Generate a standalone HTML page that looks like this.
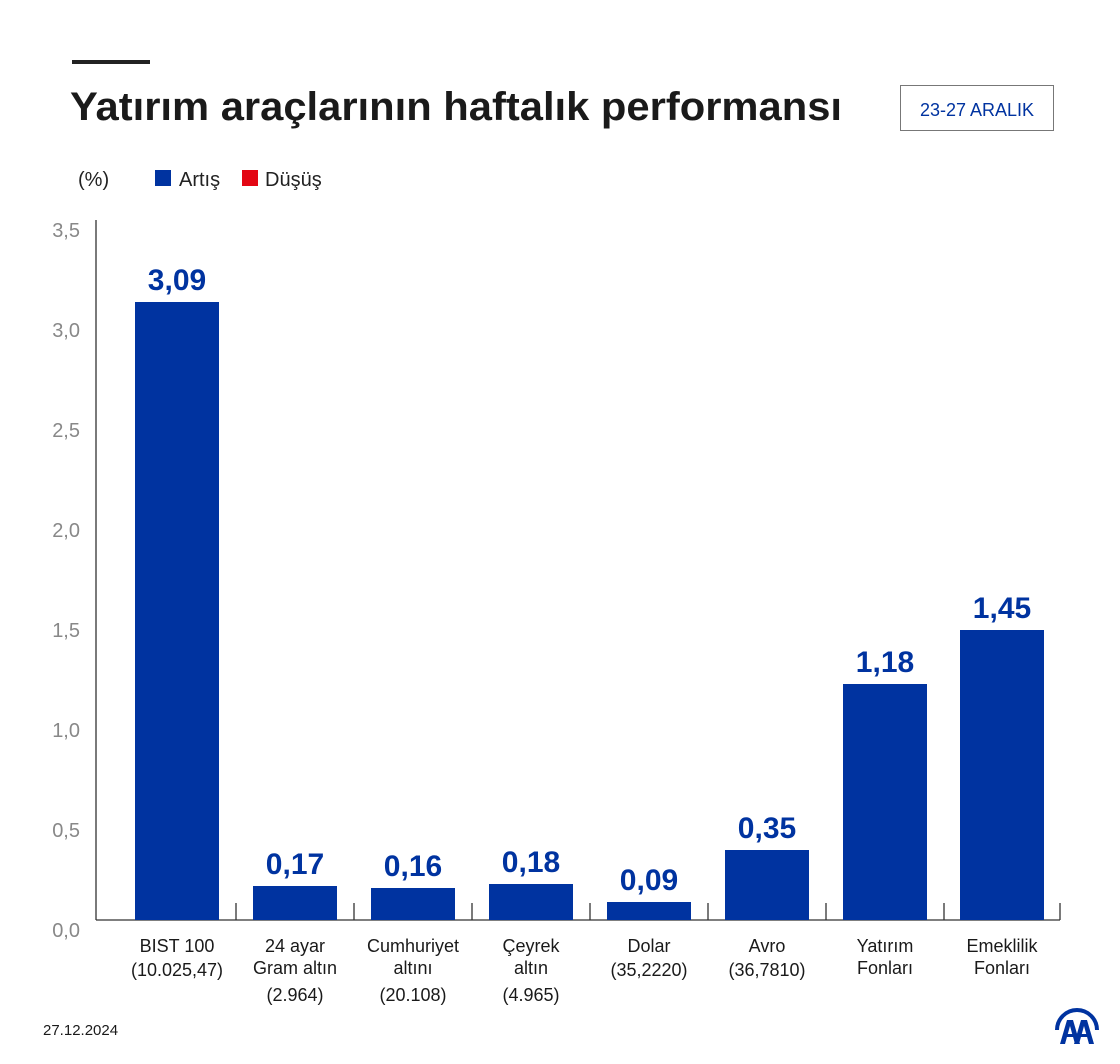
<!DOCTYPE html>
<html><head><meta charset="utf-8"><style>
body{margin:0;background:#fff;}
svg{display:block;font-family:"Liberation Sans",sans-serif;}
</style></head><body>
<svg width="1120" height="1064" viewBox="0 0 1120 1064">
<rect x="72" y="60" width="78" height="4" fill="#222"/>
<text x="70" y="120" font-size="40" font-weight="bold" fill="#1a1a1a" textLength="772" lengthAdjust="spacingAndGlyphs">Yatırım araçlarının haftalık performansı</text>
<rect x="900.5" y="85.5" width="153" height="45" fill="#fff" stroke="#777"/>
<text x="977" y="116" font-size="18" fill="#0033a0" text-anchor="middle">23-27 ARALIK</text>
<text x="78" y="186" font-size="20" fill="#222">(%)</text>
<rect x="155" y="170" width="16" height="16" fill="#0033a0"/>
<text x="179" y="186" font-size="20" fill="#222">Artış</text>
<rect x="242" y="170" width="16" height="16" fill="#e30613"/>
<text x="265" y="186" font-size="20" fill="#222">Düşüş</text>
<g font-size="20" fill="#888" text-anchor="end">
<text x="80" y="237">3,5</text><text x="80" y="337">3,0</text><text x="80" y="437">2,5</text><text x="80" y="537">2,0</text><text x="80" y="637">1,5</text><text x="80" y="737">1,0</text><text x="80" y="837">0,5</text><text x="80" y="937">0,0</text>
</g>
<g stroke="#333" stroke-width="1.3">
<line x1="96" y1="220" x2="96" y2="920"/>
<line x1="96" y1="920" x2="1060" y2="920"/>
<line x1="236" y1="903" x2="236" y2="920"/><line x1="354" y1="903" x2="354" y2="920"/><line x1="472" y1="903" x2="472" y2="920"/><line x1="590" y1="903" x2="590" y2="920"/><line x1="708" y1="903" x2="708" y2="920"/><line x1="826" y1="903" x2="826" y2="920"/><line x1="944" y1="903" x2="944" y2="920"/><line x1="1060" y1="903" x2="1060" y2="920"/>
</g>
<g fill="#0033a0">
<rect x="135" y="302" width="84" height="618"/>
<rect x="253" y="886" width="84" height="34"/>
<rect x="371" y="888" width="84" height="32"/>
<rect x="489" y="884" width="84" height="36"/>
<rect x="607" y="902" width="84" height="18"/>
<rect x="725" y="850" width="84" height="70"/>
<rect x="843" y="684" width="84" height="236"/>
<rect x="960" y="630" width="84" height="290"/>
</g>
<g font-size="30" font-weight="bold" fill="#0033a0" text-anchor="middle">
<text x="177" y="290">3,09</text><text x="295" y="874">0,17</text><text x="413" y="876">0,16</text><text x="531" y="872">0,18</text><text x="649" y="890">0,09</text><text x="767" y="838">0,35</text><text x="885" y="672">1,18</text><text x="1002" y="618">1,45</text>
</g>
<g font-size="18" fill="#1a1a1a" text-anchor="middle">
<text x="177" y="952">BIST 100</text><text x="177" y="976">(10.025,47)</text>
<text x="295" y="952">24 ayar</text><text x="295" y="974">Gram altın</text><text x="295" y="1001">(2.964)</text>
<text x="413" y="952">Cumhuriyet</text><text x="413" y="974">altını</text><text x="413" y="1001">(20.108)</text>
<text x="531" y="952">Çeyrek</text><text x="531" y="974">altın</text><text x="531" y="1001">(4.965)</text>
<text x="649" y="952">Dolar</text><text x="649" y="976">(35,2220)</text>
<text x="767" y="952">Avro</text><text x="767" y="976">(36,7810)</text>
<text x="885" y="952">Yatırım</text><text x="885" y="974">Fonları</text>
<text x="1002" y="952">Emeklilik</text><text x="1002" y="974">Fonları</text>
</g>
<text x="43" y="1035" font-size="15" fill="#1a1a1a">27.12.2024</text>
<path d="M1057 1030 A20 20 0 0 1 1097 1030" fill="none" stroke="#0033a0" stroke-width="4"/>
<g fill="#0033a0">
<polygon points="1060,1044 1067,1020 1073,1020 1080,1044 1075,1044 1070,1026 1065,1044"/>
<polygon points="1074,1044 1081,1020 1087,1020 1094,1044 1089,1044 1084,1026 1079,1044"/>
<rect x="1064" y="1034" width="12" height="3"/><rect x="1078" y="1034" width="12" height="3"/>
</g>
</svg>
</body></html>
